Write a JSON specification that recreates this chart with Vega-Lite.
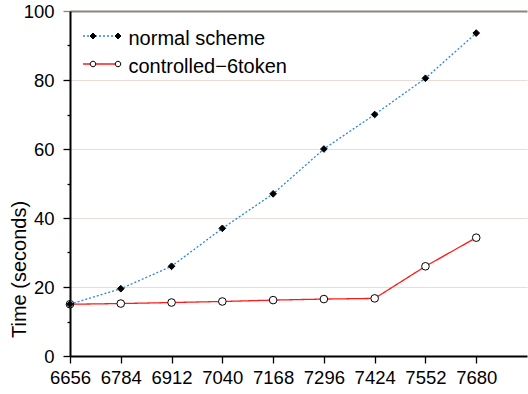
{
  "$schema": "https://vega.github.io/schema/vega-lite/v6.json",
  "width": 457,
  "height": 345,
  "autosize": {"type": "none"},
  "padding": {"left": 70, "top": 11, "right": 1, "bottom": 38},
  "background": "white",
  "config": {"view": {"stroke": null}, "font": "Liberation Sans"},
  "data": {
    "values": [
      {"size": 6656, "series": "controlled−6token", "time": 15.0},
      {"size": 6784, "series": "controlled−6token", "time": 15.2},
      {"size": 6912, "series": "controlled−6token", "time": 15.5},
      {"size": 7040, "series": "controlled−6token", "time": 15.8},
      {"size": 7168, "series": "controlled−6token", "time": 16.2},
      {"size": 7296, "series": "controlled−6token", "time": 16.5},
      {"size": 7424, "series": "controlled−6token", "time": 16.7},
      {"size": 7552, "series": "controlled−6token", "time": 26.0},
      {"size": 7680, "series": "controlled−6token", "time": 34.3},
      {"size": 6656, "series": "normal scheme", "time": 15.0},
      {"size": 6784, "series": "normal scheme", "time": 19.5},
      {"size": 6912, "series": "normal scheme", "time": 26.0},
      {"size": 7040, "series": "normal scheme", "time": 37.0},
      {"size": 7168, "series": "normal scheme", "time": 47.0},
      {"size": 7296, "series": "normal scheme", "time": 60.0},
      {"size": 7424, "series": "normal scheme", "time": 70.0},
      {"size": 7552, "series": "normal scheme", "time": 80.5},
      {"size": 7680, "series": "normal scheme", "time": 93.6}
    ]
  },
  "encoding": {
    "x": {
      "field": "size",
      "type": "quantitative",
      "scale": {"domain": [6656, 7808], "nice": false, "zero": false},
      "axis": {
        "values": [6656, 6784, 6912, 7040, 7168, 7296, 7424, 7552, 7680],
        "format": "d",
        "title": null,
        "grid": false,
        "domainColor": "black",
        "domainWidth": 2,
        "tickColor": "black",
        "tickWidth": 1.3,
        "tickSize": 7,
        "labelFontSize": 18.5,
        "labelColor": "black",
        "labelPadding": 5,
        "labelFlush": false,
        "labelOverlap": false
      }
    },
    "y": {
      "field": "time",
      "type": "quantitative",
      "scale": {"domain": [0, 100], "nice": false},
      "axis": {
        "values": [0, 10, 20, 30, 40, 50, 60, 70, 80, 90, 100],
        "labelExpr": "datum.value % 20 === 0 ? datum.label : ''",
        "tickSize": {"condition": {"test": "datum.value % 20 !== 0", "value": 3}, "value": 7},
        "tickColor": {"condition": {"test": "datum.value === 100", "value": "#8c8480"}, "value": "black"},
        "tickWidth": 1.3,
        "grid": true,
        "gridColor": {"condition": {"test": "datum.value === 100", "value": "#8c8480"}, "value": "#ecdcd6"},
        "gridOpacity": {"condition": {"test": "datum.value % 20 !== 0 || datum.value === 0", "value": 0}, "value": 1},
        "gridWidth": {"condition": {"test": "datum.value === 100", "value": 2}, "value": 1},
        "domainColor": "black",
        "domainWidth": 2,
        "labelFontSize": 18.5,
        "labelColor": "black",
        "labelPadding": 9,
        "labelOverlap": false,
        "title": "Time (seconds)",
        "titleFontSize": 20,
        "titleFontWeight": "normal",
        "titleColor": "black",
        "titleX": -45,
        "titleY": 258,
        "titleBaseline": "alphabetic",
        "titleAlign": "center",
        "titleAngle": 270
      }
    }
  },
  "layer": [
    {
      "mark": {"type": "line", "strokeWidth": 1.3},
      "encoding": {
        "color": {
          "field": "series",
          "type": "nominal",
          "scale": {"domain": ["normal scheme", "controlled−6token"], "range": ["#2e86de", "#ff1a1a"]},
          "legend": {
            "orient": "none",
            "legendX": 20.5,
            "legendY": 18,
            "title": null,
            "padding": 0,
            "symbolType": "M-3.5,-0.6H3.5",
            "symbolSize": 100,
            "symbolStrokeWidth": 1.3,
            "symbolFillColor": "transparent",
            "labelFontSize": 20,
            "labelColor": "black",
            "labelOffset": 18,
            "rowPadding": 8
          }
        },
        "strokeDash": {
          "field": "series",
          "type": "nominal",
          "scale": {"domain": ["normal scheme", "controlled−6token"], "range": [[2, 2], [1, 0]]},
          "legend": {
            "orient": "none",
            "legendX": 20.5,
            "legendY": 18,
            "title": null,
            "padding": 0,
            "symbolType": "M-3.5,-0.6H3.5",
            "symbolSize": 100,
            "symbolStrokeWidth": 1.3,
            "labelFontSize": 20,
            "labelColor": "black",
            "labelOffset": 18,
            "rowPadding": 8
          }
        }
      }
    },
    {
      "mark": {
        "type": "point",
        "stroke": "black",
        "strokeWidth": 1,
        "fill": {"expr": "(datum.series || datum.value) === 'normal scheme' ? 'black' : 'white'"},
        "size": {"expr": "datum.series ? (datum.series === 'normal scheme' ? 45 : 58) : 100"},
        "shape": {"expr": "datum.series ? (datum.series === 'normal scheme' ? 'diamond' : 'circle') : (datum.value === 'normal scheme' ? 'M-1.5,-1.2L-0.9,-0.6L-1.5,0L-2.1,-0.6Z M3.5,-1.2L4.1,-0.6L3.5,0L2.9,-0.6Z' : 'M-0.95,-0.6A0.55,0.55,0,1,1,-2.05,-0.6A0.55,0.55,0,1,1,-0.95,-0.6Z M4.05,-0.6A0.55,0.55,0,1,1,2.95,-0.6A0.55,0.55,0,1,1,4.05,-0.6Z')"}
      },
      "encoding": {
        "opacity": {
          "field": "series",
          "type": "nominal",
          "sort": ["normal scheme", "controlled−6token"],
          "scale": {"range": [1, 1]},
          "legend": {
            "orient": "none",
            "legendX": 20.5,
            "legendY": 18,
            "title": null,
            "padding": 0,
            "symbolSize": 100,
            "symbolStrokeWidth": 1,
            "labelFontSize": 20,
            "labelColor": "black",
            "labelExpr": "' '",
            "labelOffset": 18,
            "rowPadding": 8,
            "encode": {
              "symbols": {
                "shape": {"condition": {"test": "datum.value === 'normal scheme'", "value": "M-1.5,-1.2L-0.9,-0.6L-1.5,0L-2.1,-0.6Z M3.5,-1.2L4.1,-0.6L3.5,0L2.9,-0.6Z"}, "value": "M-0.95,-0.6A0.55,0.55,0,1,1,-2.05,-0.6A0.55,0.55,0,1,1,-0.95,-0.6Z M4.05,-0.6A0.55,0.55,0,1,1,2.95,-0.6A0.55,0.55,0,1,1,4.05,-0.6Z"},
                "stroke": {"value": "black"},
                "strokeWidth": {"value": 1}
              }
            }
          }
        }
      }
    }
  ]
}
